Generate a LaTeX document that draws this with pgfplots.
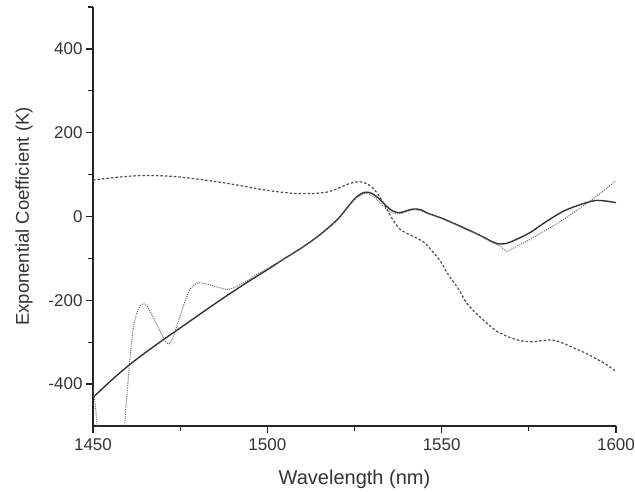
\documentclass[border=0pt]{standalone}
\usepackage{pgfplots}
\pgfplotsset{compat=1.18}
\usepackage{fontspec}
\setmainfont{Liberation Sans}
\begin{document}
\begin{tikzpicture}
\begin{axis}[
  scale only axis, width=523pt, height=419pt,
  xmin=1450, xmax=1600, ymin=-500, ymax=500,
  axis x line*=bottom, axis y line*=left,
  axis line style={-, line width=1.6pt, black!85},
  xtick={1450,1500,1550,1600}, minor xtick={1475,1525,1575},
  ytick={-400,-200,0,200,400}, minor ytick={-300,-100,100,300,500},
  tick align=outside, major tick length=7pt, minor tick length=5pt,
  every tick/.style={line width=1.3pt, black!85},
  /pgf/number format/assume math mode=true,
  /pgf/number format/set thousands separator={},
  ticklabel style={font=\fontsize{17}{19}\selectfont, text=black!80},
  xticklabel style={yshift=-2pt},
  xlabel={Wavelength (nm)}, ylabel={Exponential Coefficient (K)},
  every axis x label/.style={at={(axis description cs:0.5,0)}, yshift=-53pt, anchor=center, font=\fontsize{20}{22}\selectfont, text=black!80},
  every axis y label/.style={at={(axis description cs:0,0.5)}, xshift=-69pt, rotate=90, anchor=center, font=\fontsize{18.5}{20}\selectfont, text=black!80},
]
% solid
\addplot[black!80, line width=1.4pt, smooth, tension=0.5] coordinates {
(1450,-432) (1455,-393) (1460,-357) (1465,-325) (1470,-295) (1475,-266) (1480,-237)
(1485,-208) (1490,-180) (1495,-153) (1500,-127) (1505,-100) (1510,-74) (1515,-44)
(1520,-8) (1523,22) (1525,42) (1527,55) (1528.5,58) (1530,55) (1532,43) (1534,26)
(1536,13) (1538,9) (1540,14) (1542,18) (1544,16) (1546,8) (1550,-4) (1555,-22)
(1560,-41) (1564,-58) (1566,-65) (1568,-65) (1570,-60) (1575,-40) (1580,-12)
(1585,13) (1590,29) (1594,38) (1597,37) (1600,33)
};
% fine dotted, left piece
\addplot[black!60, line width=1pt, dash pattern=on 1pt off 1.2pt, smooth, tension=0.5] coordinates {
(1450,-410) (1450.5,-440) (1451,-480) (1451.3,-520)
};
% fine dotted, main piece
\addplot[black!60, line width=1pt, dash pattern=on 1pt off 1.2pt, smooth, tension=0.5] coordinates {
(1459.0,-520) (1459.3,-470) (1459.7,-430) (1460.2,-380) (1460.7,-330) (1461.5,-270)
(1462.5,-232) (1463.5,-214) (1464.5,-208) (1465.5,-214) (1466.5,-228) (1468,-252)
(1469.5,-278) (1470.8,-298) (1471.8,-304) (1472.7,-294) (1473.7,-270) (1475,-238)
(1476.5,-200) (1478,-172) (1480,-159) (1482.5,-161) (1485.5,-168) (1488.5,-174)
(1491,-168) (1494,-154) (1497,-138) (1500,-124) (1505,-100) (1510,-74) (1515,-45)
(1520,-9) (1525,40) (1528,55) (1530,50) (1532,36) (1534,19) (1536,8) (1538,6)
(1540,12) (1542,16) (1544,14) (1546,7) (1550,-5) (1555,-23) (1560,-42) (1564,-60)
(1567,-72) (1568.5,-83) (1570,-78) (1575,-56) (1580,-32) (1585,-7) (1590,22)
(1595,52) (1600,86)
};
% dashed
\addplot[black!70, line width=1.2pt, dash pattern=on 2.5pt off 2pt, smooth, tension=0.5] coordinates {
(1450,87) (1455,92) (1460,96) (1466,98) (1474,95) (1482,87) (1490,77) (1498,65)
(1503,59) (1508,55) (1513,55) (1517,58) (1520,66) (1523,77) (1526,83) (1528,80)
(1530,70) (1532,50) (1534,22) (1536,-8) (1538,-30) (1540,-40) (1542.5,-50)
(1545,-62) (1547,-80) (1549.5,-105) (1552,-140) (1555,-175) (1557,-205) (1560,-232)
(1563,-255) (1566,-275) (1570,-290) (1573,-297) (1576,-299) (1579,-296) (1582,-295)
(1585,-303) (1588,-314) (1591,-325) (1594,-338) (1597,-352) (1600,-370)
};
\end{axis}
\pgfresetboundingbox
\path (-93pt,-65pt) rectangle (542pt,426pt);
\end{tikzpicture}
\end{document}
